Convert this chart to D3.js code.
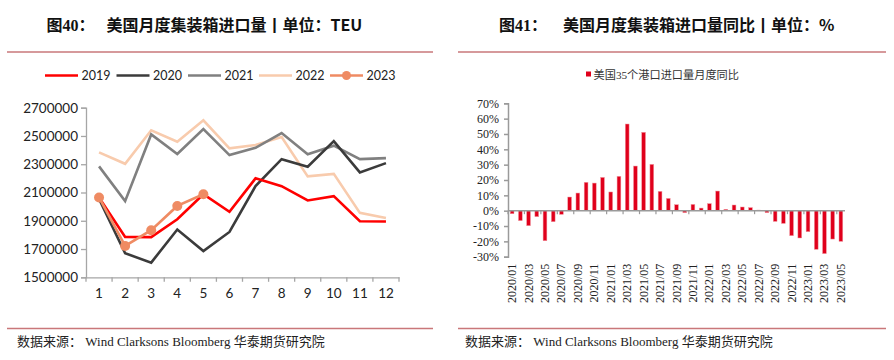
<!DOCTYPE html>
<html><head><meta charset="utf-8">
<script src="https://cdn.jsdelivr.net/npm/d3@7"></script>
<style>body{margin:0;background:#fff;} svg{display:block}</style>
</head><body>
<svg id="c" width="894" height="360"></svg>
<script>
// ---------- Left chart data ----------
const monthsL = [1,2,3,4,5,6,7,8,9,10,11,12];
const leftYTicks = [1500000,1700000,1900000,2100000,2300000,2500000,2700000];
const v2019 = [2065000,1786000,1784000,1911000,2088000,1963000,2200000,2145000,2044000,2074000,1897000,1895000];
const v2020 = [2055000,1670000,1604000,1838000,1686000,1821000,2145000,2336000,2282000,2464000,2242000,2308000];
const v2021 = [2285000,2039000,2511000,2372000,2549000,2365000,2416000,2521000,2370000,2431000,2336000,2343000];
const v2022 = [2384000,2303000,2540000,2459000,2611000,2412000,2436000,2492000,2214000,2232000,1956000,1920000];
const v2023 = [2065000,1722000,1833000,2005000,2088000];
const seriesNames = ["2019","2020","2021","2022","2023"];
const seriesColors = ["#ff0000","#3b3b3b","#808080","#f8cbad","#ef8b63"];

// ---------- Right chart data ----------
const monthsR = ["2020/01","2020/02","2020/03","2020/04","2020/05","2020/06","2020/07","2020/08","2020/09","2020/10","2020/11","2020/12",
  "2021/01","2021/02","2021/03","2021/04","2021/05","2021/06","2021/07","2021/08","2021/09","2021/10","2021/11","2021/12",
  "2022/01","2022/02","2022/03","2022/04","2022/05","2022/06","2022/07","2022/08","2022/09","2022/10","2022/11","2022/12",
  "2023/01","2023/02","2023/03","2023/04","2023/05"];
const yoy = [-0.020,-0.065,-0.098,-0.039,-0.196,-0.072,-0.024,0.089,0.115,0.185,0.180,0.217,
  0.122,0.224,0.565,0.291,0.511,0.302,0.126,0.080,0.039,-0.013,0.041,0.017,
  0.046,0.128,0.009,0.037,0.024,0.020,0.004,-0.013,-0.070,-0.083,-0.163,-0.178,
  -0.137,-0.252,-0.280,-0.185,-0.200];
const rightYTicks = [-0.3,-0.2,-0.1,0,0.1,0.2,0.3,0.4,0.5,0.6,0.7];
const rightLegend = "美国35个港口进口量月度同比";

const svg = d3.select("#c");
const CJK = "'Noto Sans CJK SC', sans-serif";
const SERIF = "'Liberation Serif', 'Noto Sans CJK SC', serif";
const SANS = "Lato, 'Noto Sans', sans-serif";
const sepColor = "#c9777a";

// Titles
function title(x1, t1, x2, t2) {
  svg.append("text").attr("x", x1).attr("y", 30.5).attr("font-family", "'Liberation Serif', 'Noto Sans CJK SC'")
    .attr("font-weight", "bold").attr("font-size", 16).attr("fill", "#111").text(t1);
  svg.append("text").attr("x", x2).attr("y", 30.5).attr("font-family", CJK)
    .attr("font-weight", "bold").attr("font-size", 16).attr("fill", "#111").text(t2);
}
title(46.5, "图40：", 106.5, "美国月度集装箱进口量丨单位：TEU");
title(499, "图41：", 563, "美国月度集装箱进口量同比丨单位：%");

// separators
[[7,433],[458,886]].forEach(([a,b]) => {
  svg.append("line").attr("x1",a).attr("x2",b).attr("y1",52).attr("y2",52).attr("stroke",sepColor).attr("stroke-width",1.5);
  svg.append("line").attr("x1",a).attr("x2",b).attr("y1",328.5).attr("y2",328.5).attr("stroke",sepColor).attr("stroke-width",1.5);
});
// footers
[17, 465].forEach(x => {
  const t = svg.append("text").attr("x", x).attr("y", 346).attr("font-size", 13).attr("fill", "#222");
  t.append("tspan").attr("font-family", CJK).text("数据来源：");
  t.append("tspan").attr("font-family", SERIF).text(" Wind Clarksons Bloomberg ");
  t.append("tspan").attr("font-family", CJK).text("华泰期货研究院");
});

// ---------- Left chart ----------
const xL = d3.scaleBand().domain(monthsL).range([86, 399]).padding(0);
const yL = d3.scaleLinear().domain([1500000, 2700000]).range([277.3, 107.7]);
const axisCol = "#a6a6a6";

const gyL = svg.append("g").attr("transform", "translate(86,0)")
  .call(d3.axisLeft(yL).tickValues(leftYTicks).tickSize(5).tickPadding(3).tickFormat(d3.format("d")));
gyL.select(".domain").attr("stroke", axisCol).attr("stroke-width", 1.3);
gyL.selectAll(".tick line").attr("stroke", axisCol).attr("stroke-width", 1.3);
gyL.selectAll(".tick text").attr("font-family", SANS).attr("font-size", 13.5).attr("fill", "#222");

const gxL = svg.append("g").attr("transform", `translate(0,${yL(1500000)})`)
  .call(d3.axisBottom(xL).tickSize(0).tickPadding(11));
gxL.select(".domain").attr("stroke", axisCol).attr("stroke-width", 1.3);
gxL.selectAll(".tick text").attr("font-family", SANS).attr("font-size", 13.5).attr("fill", "#222");
d3.range(monthsL.length + 1).forEach(i => {
  const xx = xL.range()[0] + i * xL.step();
  gxL.append("line").attr("x1", xx).attr("x2", xx).attr("y1", 0).attr("y2", 4.5).attr("stroke", axisCol).attr("stroke-width", 1.3);
});

const allSeries = [v2019, v2020, v2021, v2022, v2023];
const line = d3.line().x((d, i) => xL(monthsL[i]) + xL.bandwidth() / 2).y(d => yL(d));
// draw order: 2022, 2021, 2020, 2019, 2023
[3, 2, 1, 0, 4].forEach(k => {
  svg.append("path").datum(allSeries[k]).attr("d", line).attr("fill", "none")
    .attr("stroke", seriesColors[k]).attr("stroke-width", 2.6).attr("stroke-linejoin", "miter");
});
svg.append("g").selectAll("circle").data(v2023).join("circle")
  .attr("cx", (d, i) => xL(monthsL[i]) + xL.bandwidth() / 2).attr("cy", d => yL(d))
  .attr("r", 5).attr("fill", seriesColors[4]);

// legend left
const legX = [45, 116.5, 188, 259, 330];
seriesNames.forEach((n, i) => {
  const g = svg.append("g");
  g.append("line").attr("x1", legX[i]).attr("x2", legX[i] + 33).attr("y1", 75.5).attr("y2", 75.5)
    .attr("stroke", seriesColors[i]).attr("stroke-width", 2.6);
  if (i === 4) g.append("circle").attr("cx", legX[i] + 16.5).attr("cy", 75.5).attr("r", 4.5).attr("fill", seriesColors[i]);
  g.append("text").attr("x", legX[i] + 36.5).attr("y", 80).attr("font-family", SANS).attr("font-size", 12.5)
    .attr("fill", "#222").text(n);
});

// ---------- Right chart ----------
const xR = d3.scaleBand().domain(monthsR).range([508, 845]).padding(0);
const yR = d3.scaleLinear().domain([-0.3, 0.7]).range([256.7, 103.3]);
const axR = "#9a9a9a";
const pct = d => Math.round(d * 100) + "%";

const gyR = svg.append("g").attr("transform", "translate(508,0)")
  .call(d3.axisLeft(yR).tickValues(rightYTicks).tickSize(4).tickPadding(5).tickFormat(pct));
gyR.select(".domain").attr("stroke", axR).attr("stroke-width", 1.5);
gyR.selectAll(".tick line").attr("stroke", axR).attr("stroke-width", 1.5);
gyR.selectAll(".tick text").attr("font-family", SERIF).attr("font-size", 12).attr("fill", "#222");

const bw = xR.bandwidth() * 0.46;
svg.append("g").selectAll("rect").data(yoy).join("rect")
  .attr("x", (d, i) => xR(monthsR[i]) + (xR.bandwidth() - bw) / 2)
  .attr("y", d => yR(Math.max(0, d)))
  .attr("width", bw)
  .attr("height", d => Math.abs(yR(d) - yR(0)))
  .attr("fill", "#e0001b").attr("stroke", "#f19aa3").attr("stroke-width", 0.5);

const gxR = svg.append("g").attr("transform", `translate(0,${yR(0)})`);
gxR.append("line").attr("x1", 508).attr("x2", 845).attr("y1", 0).attr("y2", 0).attr("stroke", axR).attr("stroke-width", 1.5);
d3.range(0, monthsR.length + 1, 2).forEach(i => {
  const xx = xR.range()[0] + i * xR.step();
  gxR.append("line").attr("x1", xx).attr("x2", xx).attr("y1", 0).attr("y2", 3.5).attr("stroke", axR).attr("stroke-width", 1.2);
});
// month labels (every other)
svg.append("g").selectAll("text").data(monthsR.filter((d, i) => i % 2 === 0)).join("text")
  .attr("transform", d => `translate(${xR(d) + xR.bandwidth() / 2 + 4},${yR(-0.3) + 7}) rotate(-90)`)
  .attr("text-anchor", "end").attr("font-family", SERIF).attr("font-size", 12).attr("fill", "#222").text(d => d);

// legend right
svg.append("rect").attr("x", 586).attr("y", 71.5).attr("width", 5).attr("height", 5).attr("fill", "#e0001b");
svg.append("text").attr("x", 593.5).attr("y", 78.5).attr("font-family", SERIF).attr("font-size", 11.2).attr("fill", "#333").text(rightLegend);
</script>
</body></html>
